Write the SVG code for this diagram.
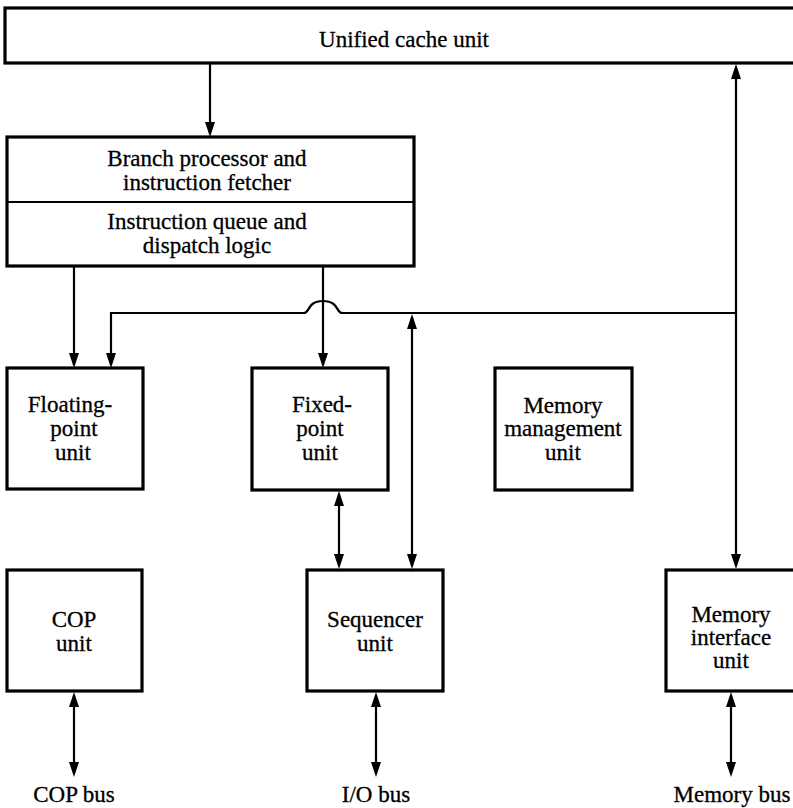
<svg xmlns="http://www.w3.org/2000/svg" width="793" height="808" viewBox="0 0 793 808">
  <style>
    .box { fill: #fff; stroke: #000; stroke-width: 3.2; }
    .div { stroke: #000; stroke-width: 2; }
    .wire { fill: none; stroke: #000; stroke-width: 2.2; }
    .lbl { font-family: "Liberation Serif", "Times New Roman", serif; font-size: 23px; fill: #000; stroke: #000; stroke-width: 0.3; text-anchor: middle; }
  </style>
  <defs>
    <marker id="arrow" markerUnits="userSpaceOnUse" markerWidth="16" markerHeight="12" viewBox="0 0 16 12" refX="12" refY="6" orient="auto-start-reverse">
      <path d="M0,1 L15,6 L0,11 z" fill="#000"/>
    </marker>
  </defs>

  <rect width="793" height="808" fill="#fff"/>

  <!-- connectors -->
  <g id="connectors">
    <!-- cache to branch processor -->
    <line class="wire" x1="210" y1="63" x2="210" y2="134" marker-end="url(#arrow)"/>
    <!-- cache <-> memory interface trunk -->
    <line class="wire" x1="736" y1="67" x2="736" y2="566" marker-start="url(#arrow)" marker-end="url(#arrow)"/>
    <!-- dispatch to floating-point -->
    <line class="wire" x1="74" y1="266" x2="74" y2="365" marker-end="url(#arrow)"/>
    <!-- dispatch to fixed-point -->
    <line class="wire" x1="323" y1="266" x2="323" y2="365" marker-end="url(#arrow)"/>
    <!-- horizontal bus with hop over the fixed-point feed -->
    <path class="wire" d="M736,313 L342,313 C336,313 339,301 323,301 C307,301 310,313 304,313 L111,313 L111,365" marker-end="url(#arrow)"/>
    <!-- sequencer <-> bus -->
    <line class="wire" x1="412" y1="317" x2="412" y2="566" marker-start="url(#arrow)" marker-end="url(#arrow)"/>
    <!-- fixed-point <-> sequencer -->
    <line class="wire" x1="339" y1="494" x2="339" y2="566" marker-start="url(#arrow)" marker-end="url(#arrow)"/>
    <!-- external buses -->
    <line class="wire" x1="74" y1="695" x2="74" y2="774" marker-start="url(#arrow)" marker-end="url(#arrow)"/>
    <line class="wire" x1="376" y1="695" x2="376" y2="774" marker-start="url(#arrow)" marker-end="url(#arrow)"/>
    <line class="wire" x1="731" y1="695" x2="731" y2="774" marker-start="url(#arrow)" marker-end="url(#arrow)"/>
  </g>

  <g id="cache">
    <rect class="box" x="5" y="8" width="800" height="55"/>
    <text class="lbl" x="404" y="47">Unified cache unit</text>
  </g>

  <g id="branch">
    <rect class="box" x="7" y="137" width="407" height="129"/>
    <line class="div" x1="7" y1="202" x2="414" y2="202"/>
    <text class="lbl" x="207" y="166">Branch processor and</text>
    <text class="lbl" x="207" y="190">instruction fetcher</text>
    <text class="lbl" x="207" y="229">Instruction queue and</text>
    <text class="lbl" x="207" y="253">dispatch logic</text>
  </g>

  <g id="fpu">
    <rect class="box" x="7" y="368" width="136" height="121"/>
    <text class="lbl" x="70" y="412">Floating-</text>
    <text class="lbl" x="74" y="436">point</text>
    <text class="lbl" x="73" y="460">unit</text>
  </g>

  <g id="fxu">
    <rect class="box" x="252" y="368" width="136" height="122"/>
    <text class="lbl" x="322" y="412">Fixed-</text>
    <text class="lbl" x="320" y="436">point</text>
    <text class="lbl" x="320" y="460">unit</text>
  </g>

  <g id="mmu">
    <rect class="box" x="495" y="368" width="137" height="122"/>
    <text class="lbl" x="563" y="413">Memory</text>
    <text class="lbl" x="563" y="436">management</text>
    <text class="lbl" x="563" y="460">unit</text>
  </g>

  <g id="cop">
    <rect class="box" x="7" y="570" width="135" height="121"/>
    <text class="lbl" x="74" y="627">COP</text>
    <text class="lbl" x="74" y="651">unit</text>
  </g>

  <g id="sequencer">
    <rect class="box" x="307" y="570" width="136" height="121"/>
    <text class="lbl" x="375" y="627">Sequencer</text>
    <text class="lbl" x="375" y="651">unit</text>
  </g>

  <g id="miu">
    <rect class="box" x="666" y="570" width="140" height="121"/>
    <text class="lbl" x="731" y="622">Memory</text>
    <text class="lbl" x="731" y="645">interface</text>
    <text class="lbl" x="731" y="668">unit</text>
  </g>

  <g id="bus-labels">
    <text class="lbl" x="74" y="802">COP bus</text>
    <text class="lbl" x="376" y="802">I/O bus</text>
    <text class="lbl" x="732" y="802">Memory bus</text>
  </g>
</svg>
